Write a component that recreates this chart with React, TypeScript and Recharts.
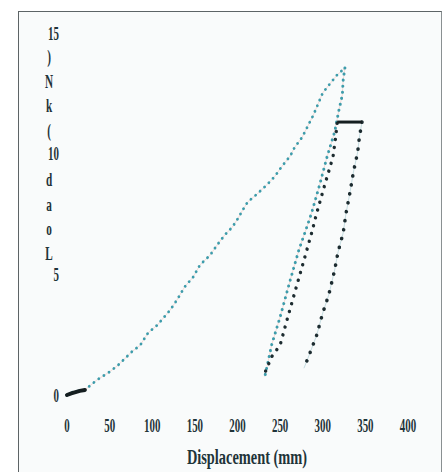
import { LineChart, Line, XAxis, YAxis } from 'recharts';

// Displacement (mm) / Load (kN)
const xTicks = [0, 50, 100, 150, 200, 250, 300, 350, 400];
const yTicks = [0, 5, 10, 15];

const startDisp = [0, 5, 10, 15, 21];
const startLoad = [0, 0.07, 0.12, 0.17, 0.21];

const loadDisp = [0, 7, 21, 35, 50, 60, 76, 86, 95, 106, 121, 129, 138, 148, 156, 168, 176, 185, 194, 201, 206, 212, 223, 235, 244, 252, 262, 267, 276, 282, 289, 300, 309, 317, 326];
const loadLoad = [0, 0.13, 0.21, 0.62, 0.96, 1.24, 1.79, 2.07, 2.57, 2.9, 3.52, 3.94, 4.48, 4.89, 5.39, 5.8, 6.21, 6.63, 6.96, 7.34, 7.66, 8.0, 8.33, 8.73, 9.07, 9.47, 9.91, 10.26, 10.69, 11.11, 11.6, 12.52, 12.92, 13.27, 13.55];

const unload1Disp = [326, 324, 323, 319, 314, 305, 297, 287, 279, 272, 261, 250, 240, 235, 232];
const unload1Load = [13.55, 13.06, 12.44, 11.81, 10.9, 9.86, 8.79, 7.55, 6.72, 6.01, 4.65, 3.23, 2.07, 1.24, 0.75];

const reloadDisp = [233, 240, 250, 259, 268, 278, 287, 293, 303, 312, 315, 317];
const reloadLoad = [0.99, 1.58, 2.07, 3.23, 4.35, 5.59, 6.72, 7.55, 8.79, 9.86, 10.65, 11.31];

const holdDisp = [317, 346];
const holdLoad = [11.31, 11.31];

const unload2Disp = [346, 343, 341, 336, 332, 327, 324, 318, 314, 307, 300, 293, 285, 278];
const unload2Load = [11.31, 10.69, 10.07, 9.24, 8.41, 7.46, 6.72, 5.93, 5.18, 4.14, 3.4, 2.49, 1.74, 1.11];

const yTitle = 'Load (kN)';
const xTitle = 'Displacement (mm)';

const toPoints = (xs: number[], ys: number[]) => xs.map((x, i) => ({ x, y: ys[i] }));

const INK = '#1f3439';
const TEAL = '#3d9cab';
const FONT = '"Liberation Serif", serif';

const XTick = ({ x, payload }: any) => (
  <text
    transform={`translate(${x},425) scale(0.78,1.35)`}
    textAnchor="middle"
    dominantBaseline="central"
    fontFamily={FONT}
    fontWeight="bold"
    fontSize={14}
    fill={INK}
  >
    {payload.value}
  </text>
);

const YTick = ({ y, payload }: any) => (
  <text
    transform={`translate(59,${y}) scale(0.78,1.35)`}
    textAnchor="end"
    dominantBaseline="central"
    fontFamily={FONT}
    fontWeight="bold"
    fontSize={14}
    fill={INK}
  >
    {payload.value}
  </text>
);

// y title is printed as upright letters stacked bottom-to-top, sharing the tick column
const YTitle = () => (
  <g>
    {yTitle.split('').map((ch, i) => (
      <text
        key={i}
        transform={`translate(49,${254 - i * 24.6}) scale(0.8,1.3)`}
        textAnchor="middle"
        dominantBaseline="central"
        fontFamily={FONT}
        fontWeight="bold"
        fontSize={14}
        fill={INK}
      >
        {ch}
      </text>
    ))}
  </g>
);

const XTitle = () => (
  <text
    transform="translate(247,457) scale(0.9,1.25)"
    textAnchor="middle"
    dominantBaseline="central"
    fontFamily={FONT}
    fontWeight="bold"
    fontSize={16}
    fill={INK}
  >
    {xTitle}
  </text>
);

export default function App() {
  const dotted = (color: string, w: number, gap: number) => ({
    stroke: color,
    strokeWidth: w,
    strokeDasharray: `0.1 ${gap}`,
    strokeLinecap: 'round' as const,
  });

  return (
    <div style={{ position: 'relative', width: 448, height: 472, background: '#fff', overflow: 'hidden' }}>
      <style>{'body{margin:0}'}</style>
      <div
        style={{
          position: 'absolute',
          left: 18,
          top: 11,
          width: 422,
          height: 470,
          borderTop: '1px solid #5d6466',
          borderLeft: '1px solid #5d6466',
          borderRight: '1px solid #8a9092',
          background: '#f9fbfb',
        }}
      />
      <div style={{ position: 'absolute', left: 0, top: 0 }}>
        <LineChart width={448} height={472} margin={{ top: 33, right: 40, left: 0, bottom: 0 }}>
          <XAxis
            dataKey="x"
            type="number"
            domain={[0, 400]}
            ticks={xTicks}
            axisLine={false}
            tickLine={false}
            height={77}
            tick={<XTick />}
            label={<XTitle />}
          />
          <YAxis
            type="number"
            domain={[0, 15]}
            ticks={yTicks}
            axisLine={false}
            tickLine={false}
            width={67}
            tick={<YTick />}
            label={<YTitle />}
          />
          {/* faint pink halo from the print */}
          <Line data={toPoints(loadDisp, loadLoad)} dataKey="y" stroke="#f2c4bd" strokeWidth={1} strokeOpacity={0.6} dot={false} isAnimationActive={false} />
          <Line data={toPoints(loadDisp, loadLoad)} dataKey="y" {...dotted(TEAL, 2.8, 6)} dot={false} isAnimationActive={false} />
          <Line data={toPoints(unload1Disp, unload1Load)} dataKey="y" stroke="#f2c4bd" strokeWidth={1} strokeOpacity={0.6} dot={false} isAnimationActive={false} />
          <Line data={toPoints(unload1Disp, unload1Load)} dataKey="y" {...dotted(TEAL, 3, 6)} dot={false} isAnimationActive={false} />
          <Line data={toPoints(reloadDisp, reloadLoad)} dataKey="y" {...dotted('#1d2c30', 3.4, 8)} dot={false} isAnimationActive={false} />
          <Line data={toPoints(unload2Disp, unload2Load)} dataKey="y" stroke="#c6dde1" strokeWidth={1} dot={false} isAnimationActive={false} />
          <Line data={toPoints(unload2Disp, unload2Load)} dataKey="y" {...dotted('#1d2c30', 3.6, 9)} dot={false} isAnimationActive={false} />
          <Line data={toPoints(holdDisp, holdLoad)} dataKey="y" stroke="#151e20" strokeWidth={3} dot={false} isAnimationActive={false} />
          <Line data={toPoints(startDisp, startLoad)} dataKey="y" stroke="#151e20" strokeWidth={4} strokeLinecap="round" dot={false} isAnimationActive={false} />
        </LineChart>
      </div>
    </div>
  );
}
